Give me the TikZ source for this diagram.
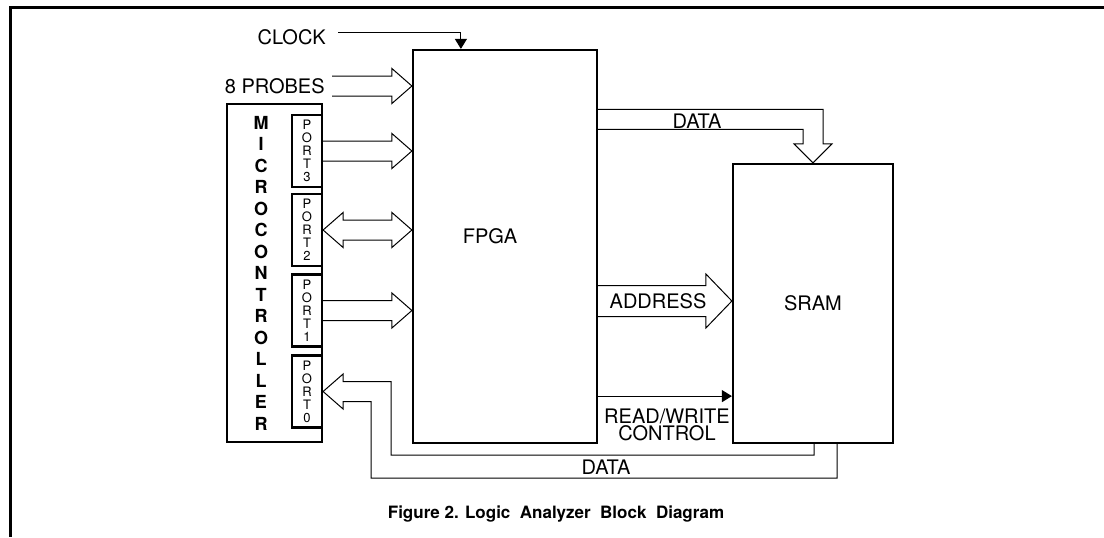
\documentclass[tikz,border=0pt]{standalone}
\usepackage{fontspec}
\setmainfont{TeX Gyre Heros}
\usetikzlibrary{arrows.meta,calc}

% hollow bus arrow: tail, tip, half width, head half width, head length
\newcommand{\busright}[5]{%
  \draw[bus] ($(#1)+(0,-#3)$) -- ($(#2)+(-#5,-#3)$) -- ($(#2)+(-#5,-#4)$) -- (#2)
    -- ($(#2)+(-#5,#4)$) -- ($(#2)+(-#5,#3)$) -- ($(#1)+(0,#3)$);}

\begin{document}
\begin{tikzpicture}[x=0.5pt, y=-0.5pt,
    box/.style={draw, line width=1.1pt, inner sep=0pt, font=\fontsize{10}{12}\selectfont},
    portbox/.style={draw, line width=1.1pt, inner sep=0pt, minimum width=15pt, minimum height=36pt, align=center, font=\fontsize{6.5}{6.5}\selectfont},
    bus/.style={line width=0.5pt, line join=miter},
    wire/.style={line width=0.5pt, -{Triangle[length=5pt, width=6pt]}},
    lbl/.style={inner sep=0pt, align=center, font=\fontsize{10}{8.7}\selectfont},
    caption/.style={inner sep=0pt, font=\bfseries\fontsize{8.5}{10}\selectfont}
  ]
    \useasboundingbox (0,0) rectangle (1104,537);
    \draw[line width=1.5pt] (1104,7) -- (10,7) -- (10,537);

    % blocks
    \node[box, minimum width=92pt, minimum height=196.5pt] (fpga) at (505,246.5) {};
    \node[lbl] (fpgalbl) at (490,236) {FPGA};
    \node[box, minimum width=80pt, minimum height=139.5pt] (sram) at (813,303.5) {SRAM};
    \node[box, minimum width=47.5pt, minimum height=169pt] (micro) at (274.5,273) {};
    \node[inner sep=0pt, align=center, font=\bfseries\fontsize{9}{10.75}\selectfont] (microlbl) at (261,273)
      {M\\I\\C\\R\\O\\C\\O\\N\\T\\R\\O\\L\\L\\E\\R};
    \node[portbox] (port3) at (307,151) {P\\O\\R\\T\\3};
    \node[portbox] (port2) at (307,230) {P\\O\\R\\T\\2};
    \node[portbox] (port1) at (307,310.5) {P\\O\\R\\T\\1};
    \node[portbox] (port0) at (307,391.5) {P\\O\\R\\T\\0};

    % inputs to the FPGA
    \coordinate (clockin) at (338,32);
    \node[lbl, anchor=east] (clocklbl) at (326,37) {CLOCK};
    \draw[wire] (clockin) -| ($(fpga.north west)+(49,0)$);
    \coordinate (probesin) at (332,86);
    \coordinate (probestip) at (fpga.west |- probesin);
    \node[lbl, anchor=east] (probeslbl) at (325,86) {8 PROBES};
    \busright{probesin}{probestip}{10}{17.5}{20}
    \coordinate (p3tip) at (fpga.west |- port3.east);
    \busright{port3.east}{p3tip}{10}{17.5}{20}
    \coordinate (p1tip) at (fpga.west |- port1.east);
    \busright{port1.east}{p1tip}{10}{17.5}{20}
    \coordinate (p2tip) at (fpga.west |- port2.east);
    \draw[bus] ($(port2.east)+(20,-10)$) -- ($(p2tip)+(-20,-10)$) -- ($(p2tip)+(-20,-17.5)$) -- (p2tip)
      -- ($(p2tip)+(-20,17.5)$) -- ($(p2tip)+(-20,10)$) -- ($(port2.east)+(20,10)$)
      -- ($(port2.east)+(20,17.5)$) -- (port2.east) -- ($(port2.east)+(20,-17.5)$) -- cycle;

    % FPGA to SRAM
    \coordinate (dataout) at ($(fpga.north east)+(0,70.5)$);
    \draw[bus] ($(dataout)+(0,-10)$) -| ($(sram.north)+(10,-19)$) -- ($(sram.north)+(19,-19)$) -- (sram.north)
      -- ($(sram.north)+(-19,-19)$) -- ($(sram.north)+(-10,-19)$) |- ($(dataout)+(0,10)$);
    \node[lbl] (datalbl) at (697,121) {DATA};
    \coordinate (addrtip) at ($(sram.west)+(0,-2.5)$);
    \coordinate (addrout) at (fpga.east |- addrtip);
    \busright{addrout}{addrtip}{15.5}{27}{26}
    \node[lbl] (addrlbl) at (658,301) {ADDRESS};
    \coordinate (rwout) at ($(fpga.south east)+(0,-48)$);
    \draw[wire] (rwout) -- (sram.west |- rwout);
    \node[lbl] (rwlbl) at (667,425) {READ/WRITE\\CONTROL};

    % SRAM back to port 0
    \draw[bus] ($(sram.south)+(1,0)$) -- ++(0,11) -| ($(port0.east)+(68,-10)$) -- ($(port0.east)+(20,-10)$)
      -- ($(port0.east)+(20,-17.5)$) -- (port0.east) -- ($(port0.east)+(20,17.5)$) -- ($(port0.east)+(20,10)$)
      -- ($(port0.east)+(48,10)$) |- ($(sram.south)+(24,34)$) -- ($(sram.south)+(24,0)$);
    \node[lbl] (datalbl2) at (606,467) {DATA};

    \node[caption, anchor=base] (cap) at (556,518) {Figure 2. Logic\ \ Analyzer\ \ Block\ \ Diagram};
\end{tikzpicture}
\end{document}
